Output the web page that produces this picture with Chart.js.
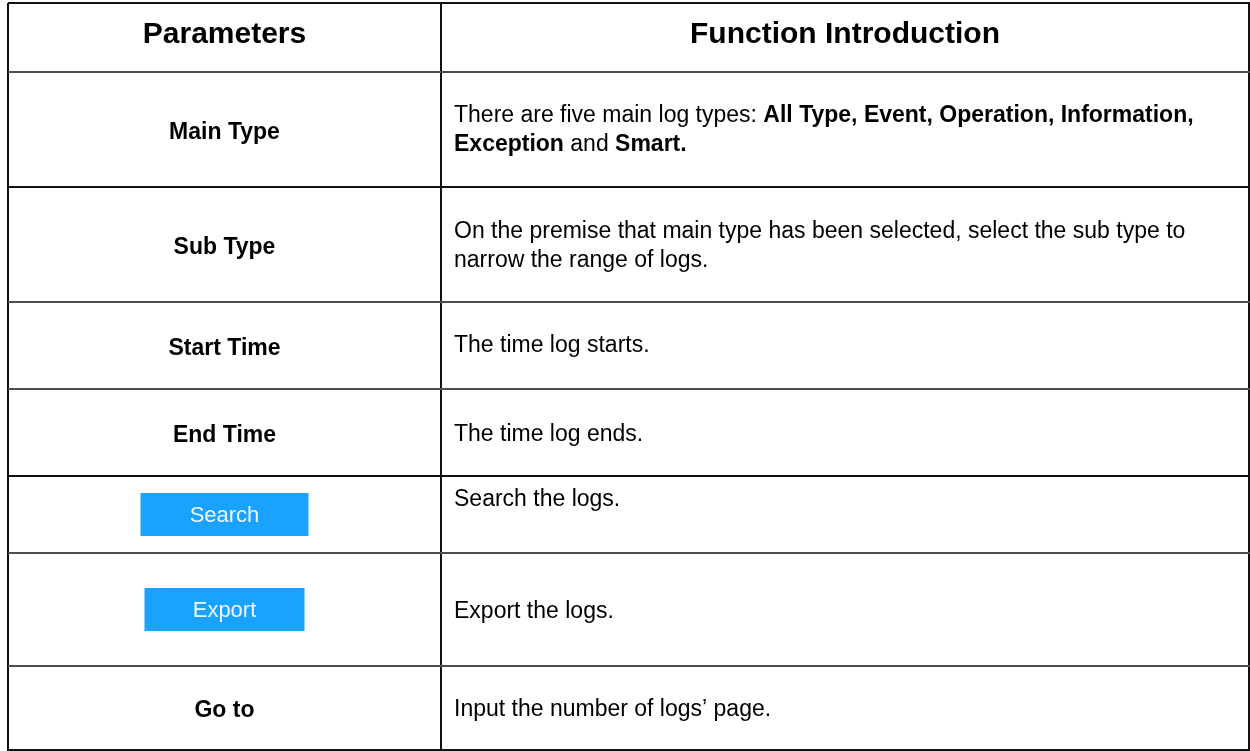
<!DOCTYPE html>
<html>
<head>
<meta charset="utf-8">
<script src="https://cdn.jsdelivr.net/npm/chart.js@4.4.1/dist/chart.umd.min.js"></script>
<style>
  html, body { margin: 0; padding: 0; background: #fff; }
  canvas { display: block; }
</style>
</head>
<body>
<canvas id="table" width="1250" height="751"></canvas>
<script>
// table content
const headers = ["Parameters", "Function Introduction"];
const params = ["Main Type", "Sub Type", "Start Time", "End Time", "Search", "Export", "Go to"];
const buttonRows = ["Search", "Export"];
const descriptions = [
  "There are five main log types: **All Type, Event, Operation, Information,**\n**Exception** and **Smart.**",
  "On the premise that main type has been selected, select the sub type to\nnarrow the range of logs.",
  "The time log starts.",
  "The time log ends.",
  "Search the logs.",
  "Export the logs.",
  "Input the number of logs\u2019 page."
];

// cell edges on the two axes
const rowEdges = [3, 72, 187, 302, 389, 476, 553, 666, 750];
const colEdges = [8, 441, 1249];

// styles
const FONT = "'Liberation Sans', Arial, sans-serif";
const rowLineColors = ["#111", "#4d4d4d", "#111", "#4d4d4d", "#4d4d4d", "#111", "#4d4d4d", "#4d4d4d", "#111"];
const buttonWidths = { Search: 168, Export: 160 };
const descNudge = [1, 2, 0, 2, -15, 2, 2];

function drawRuns(ctx, line, x, y) {
  const parts = line.split(/(\*\*[^*]+\*\*)/).filter(Boolean);
  parts.forEach((p) => {
    const bold = p.startsWith("**");
    const txt = bold ? p.slice(2, -2) : p;
    ctx.font = (bold ? "bold " : "") + "23px " + FONT;
    ctx.fillText(txt, x, y);
    x += ctx.measureText(txt).width;
  });
}

const tableText = {
  id: "tableText",
  afterDraw(chart) {
    const { ctx } = chart;
    const x = chart.scales.x;
    const y = chart.scales.y;
    const px = (v) => x.getPixelForValue(v);
    const py = (v) => y.getPixelForValue(v);
    const leftMid = (px(colEdges[0]) + px(colEdges[1])) / 2;
    const rightMid = (px(colEdges[1]) + px(colEdges[2])) / 2;

    ctx.save();
    ctx.fillStyle = "#000";
    ctx.textBaseline = "middle";
    ctx.textAlign = "center";

    // header row
    const hMid = (py(rowEdges[0]) + py(rowEdges[1])) / 2 - 3;
    ctx.font = "bold 30px " + FONT;
    ctx.fillText(headers[0], leftMid, hMid);
    ctx.fillText(headers[1], rightMid, hMid);

    params.forEach((name, i) => {
      const top = py(rowEdges[i + 1]);
      const bottom = py(rowEdges[i + 2]);
      const mid = (top + bottom) / 2;

      if (buttonRows.includes(name)) {
        const w = buttonWidths[name];
        const h = 43;
        ctx.fillStyle = "#1aa2ff";
        ctx.fillRect(leftMid - w / 2, mid - h / 2, w, h);
        ctx.fillStyle = "#eef7ff";
        ctx.textAlign = "center";
        ctx.font = "22px " + FONT;
        ctx.fillText(name, leftMid, mid + 1);
        ctx.fillStyle = "#000";
      } else {
        ctx.textAlign = "center";
        ctx.font = "bold 23px " + FONT;
        ctx.fillText(name, leftMid, mid + 3);
      }

      const lines = descriptions[i].split("\n");
      const lh = 29;
      const startY = mid + descNudge[i] - ((lines.length - 1) * lh) / 2;
      ctx.textAlign = "left";
      lines.forEach((ln, k) => drawRuns(ctx, ln, px(colEdges[1]) + 13, startY + k * lh));
    });
    ctx.restore();
  }
};

new Chart(document.getElementById("table"), {
  type: "scatter",
  data: { datasets: [] },
  options: {
    responsive: false,
    animation: false,
    devicePixelRatio: 1,
    layout: { padding: { left: colEdges[0], top: rowEdges[0], right: 0, bottom: 0 } },
    plugins: { legend: { display: false }, tooltip: { enabled: false } },
    scales: {
      x: {
        type: "linear",
        position: "top",
        min: colEdges[0],
        max: 1250,
        afterBuildTicks: (s) => { s.ticks = colEdges.map((v) => ({ value: v })); },
        ticks: { display: false },
        grid: { color: "#111", lineWidth: 2, drawTicks: false },
        border: { display: false }
      },
      y: {
        type: "linear",
        reverse: true,
        min: rowEdges[0],
        max: 751,
        afterBuildTicks: (s) => { s.ticks = rowEdges.map((v) => ({ value: v })); },
        ticks: { display: false },
        grid: { color: (c) => rowLineColors[c.index] || "#111", lineWidth: 2, drawTicks: false },
        border: { display: false }
      }
    }
  },
  plugins: [tableText]
});
</script>
</body>
</html>
